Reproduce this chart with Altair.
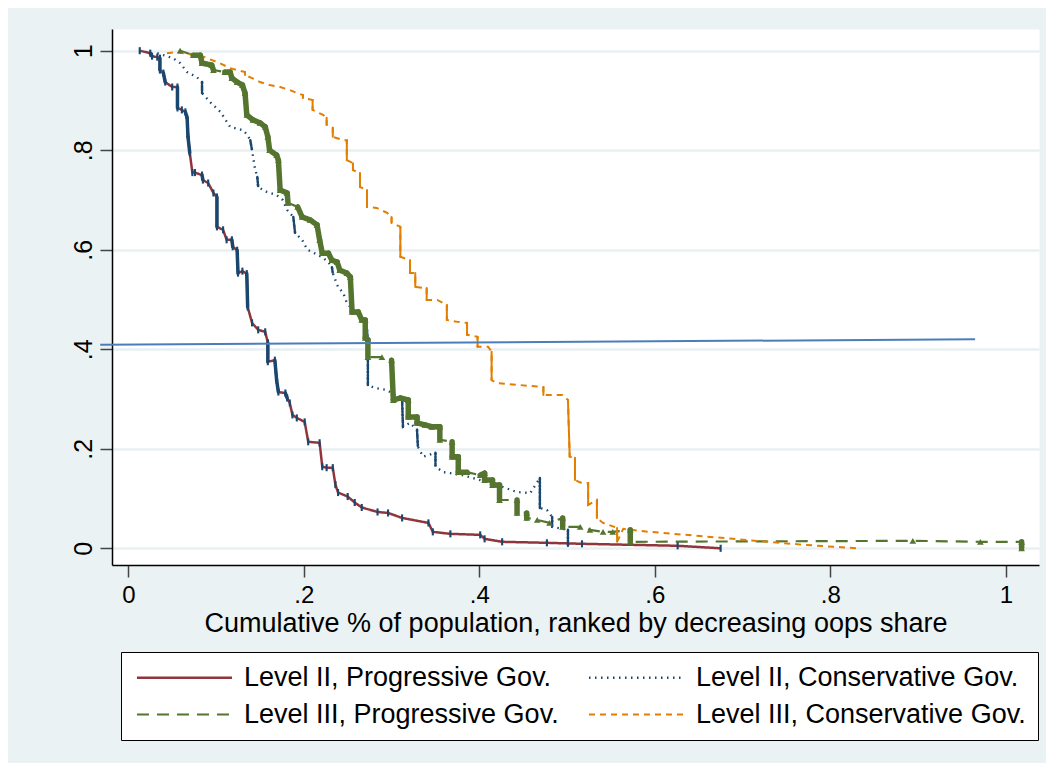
import altair as alt
import pandas as pd

# ---------------- data ----------------
series_names = [
    "Level II, Progressive Gov.",
    "Level II, Conservative Gov.",
    "Level III, Progressive Gov.",
    "Level III, Conservative Gov.",
]

l2p_x = [0.013, 0.025, 0.027, 0.033, 0.036, 0.036, 0.040, 0.042, 0.050, 0.056, 0.056,
         0.061, 0.065, 0.067, 0.068, 0.070, 0.073, 0.076, 0.084, 0.085, 0.091, 0.097,
         0.101, 0.101, 0.108, 0.112, 0.118, 0.119, 0.124, 0.125, 0.130, 0.135, 0.136,
         0.141, 0.148, 0.156, 0.159, 0.159, 0.167, 0.169, 0.171, 0.179, 0.181, 0.184,
         0.187, 0.192, 0.201, 0.205, 0.218, 0.221, 0.226, 0.233, 0.236, 0.239, 0.250,
         0.258, 0.266, 0.284, 0.296, 0.312, 0.342, 0.347, 0.367, 0.401, 0.406, 0.426,
         0.477, 0.517, 0.626, 0.675]
l2p_y = [1.000, 0.995, 0.989, 0.987, 0.985, 0.961, 0.955, 0.937, 0.927, 0.927, 0.885,
         0.881, 0.877, 0.865, 0.827, 0.795, 0.755, 0.755, 0.750, 0.740, 0.734, 0.714,
         0.706, 0.646, 0.640, 0.620, 0.620, 0.606, 0.599, 0.553, 0.557, 0.552, 0.485,
         0.453, 0.439, 0.435, 0.413, 0.375, 0.378, 0.338, 0.314, 0.312, 0.302, 0.292,
         0.268, 0.262, 0.254, 0.214, 0.212, 0.164, 0.162, 0.162, 0.128, 0.112, 0.104,
         0.092, 0.082, 0.073, 0.071, 0.061, 0.051, 0.033, 0.029, 0.027, 0.019, 0.013,
         0.011, 0.009, 0.005, 0.000]

l2c_x = [0.033, 0.040, 0.051, 0.059, 0.067, 0.078, 0.084, 0.084, 0.093, 0.105, 0.116,
         0.131, 0.136, 0.139, 0.141, 0.144, 0.147, 0.148, 0.158, 0.169, 0.176, 0.181,
         0.188, 0.190, 0.198, 0.204, 0.210, 0.221, 0.228, 0.232, 0.233, 0.239, 0.245,
         0.249, 0.256, 0.264, 0.272, 0.273, 0.273, 0.281, 0.295, 0.312, 0.313, 0.321,
         0.329, 0.330, 0.336, 0.350, 0.350, 0.359, 0.367, 0.381, 0.401, 0.427, 0.443,
         0.458, 0.469, 0.469, 0.477, 0.483, 0.483, 0.501, 0.501]
l2c_y = [0.995, 0.991, 0.985, 0.975, 0.957, 0.947, 0.937, 0.915, 0.897, 0.877, 0.847,
         0.840, 0.830, 0.820, 0.800, 0.766, 0.746, 0.726, 0.716, 0.710, 0.700, 0.680,
         0.666, 0.634, 0.620, 0.600, 0.595, 0.585, 0.575, 0.565, 0.553, 0.525, 0.513,
         0.493, 0.479, 0.465, 0.439, 0.413, 0.328, 0.322, 0.318, 0.298, 0.244, 0.252,
         0.238, 0.204, 0.184, 0.192, 0.164, 0.153, 0.151, 0.147, 0.137, 0.123, 0.113,
         0.111, 0.141, 0.081, 0.077, 0.063, 0.043, 0.037, 0.003]

l3p_x = [0.059, 0.074, 0.082, 0.084, 0.095, 0.097, 0.110, 0.116, 0.118, 0.124, 0.130,
         0.133, 0.135, 0.142, 0.150, 0.156, 0.159, 0.161, 0.169, 0.171, 0.173, 0.181,
         0.182, 0.193, 0.198, 0.207, 0.215, 0.218, 0.221, 0.228, 0.232, 0.238, 0.241,
         0.249, 0.253, 0.255, 0.262, 0.266, 0.270, 0.270, 0.273, 0.273, 0.289, 0.300,
         0.302, 0.310, 0.319, 0.319, 0.329, 0.329, 0.338, 0.346, 0.355, 0.355, 0.369,
         0.369, 0.376, 0.376, 0.386, 0.401, 0.406, 0.406, 0.415, 0.415, 0.423, 0.423,
         0.443, 0.443, 0.454, 0.454, 0.466, 0.480, 0.495, 0.495, 0.515, 0.526, 0.541,
         0.552, 0.572, 0.572, 0.894, 0.971, 1.018, 1.018]
l3p_y = [1.000, 0.991, 0.991, 0.975, 0.971, 0.961, 0.957, 0.957, 0.945, 0.937, 0.931,
         0.915, 0.871, 0.861, 0.855, 0.847, 0.827, 0.800, 0.790, 0.780, 0.720, 0.714,
         0.694, 0.686, 0.666, 0.660, 0.650, 0.620, 0.593, 0.593, 0.579, 0.575, 0.559,
         0.553, 0.545, 0.475, 0.475, 0.459, 0.459, 0.423, 0.419, 0.384, 0.384, 0.378,
         0.298, 0.302, 0.298, 0.264, 0.264, 0.252, 0.248, 0.244, 0.244, 0.218, 0.214,
         0.184, 0.184, 0.153, 0.153, 0.147, 0.151, 0.137, 0.137, 0.127, 0.127, 0.097,
         0.097, 0.071, 0.071, 0.061, 0.057, 0.051, 0.061, 0.043, 0.043, 0.037, 0.033,
         0.033, 0.037, 0.013, 0.015, 0.013, 0.013, 0.000]

l3c_x = [0.044, 0.055, 0.084, 0.104, 0.116, 0.124, 0.133, 0.133, 0.141, 0.150, 0.161,
         0.173, 0.184, 0.192, 0.199, 0.199, 0.210, 0.210, 0.222, 0.226, 0.226, 0.233,
         0.233, 0.245, 0.249, 0.249, 0.256, 0.256, 0.264, 0.264, 0.272, 0.272, 0.283,
         0.295, 0.300, 0.300, 0.310, 0.310, 0.321, 0.321, 0.327, 0.327, 0.340, 0.340,
         0.352, 0.363, 0.363, 0.375, 0.386, 0.386, 0.398, 0.398, 0.410, 0.414, 0.414,
         0.420, 0.473, 0.473, 0.495, 0.501, 0.503, 0.509, 0.509, 0.517, 0.524, 0.524,
         0.534, 0.534, 0.541, 0.557, 0.557, 0.564, 0.594, 0.689, 0.769, 0.831]
l3c_y = [0.995, 0.997, 0.989, 0.975, 0.965, 0.961, 0.957, 0.951, 0.945, 0.937, 0.931,
         0.927, 0.921, 0.915, 0.911, 0.905, 0.901, 0.881, 0.871, 0.865, 0.851, 0.845,
         0.827, 0.820, 0.820, 0.780, 0.774, 0.760, 0.754, 0.726, 0.720, 0.686, 0.684,
         0.674, 0.666, 0.654, 0.646, 0.586, 0.579, 0.553, 0.553, 0.525, 0.523, 0.499,
         0.499, 0.489, 0.459, 0.455, 0.453, 0.429, 0.425, 0.405, 0.405, 0.395, 0.338,
         0.332, 0.324, 0.308, 0.308, 0.298, 0.184, 0.182, 0.137, 0.131, 0.131, 0.087,
         0.097, 0.061, 0.051, 0.041, 0.013, 0.039, 0.033, 0.019, 0.007, 0.000]

ref_x = [-0.032, 0.965]
ref_y = [0.409, 0.420]

x_ticks = [0, 0.2, 0.4, 0.6, 0.8, 1]
y_ticks = [0, 0.2, 0.4, 0.6, 0.8, 1]
x_title = "Cumulative % of population, ranked by decreasing oops share"

# ---------------- styles ----------------
FONT = "Liberation Sans"
MAROON, NAVY, GREEN, ORANGE = "#90353b", "#1a476f", "#55752f", "#e37e00"
REF_BLUE = "#4a7ebb"
line_colors = [MAROON, NAVY, GREEN, ORANGE]
line_dashes = [[1, 0], [1.5, 4.5], [12, 8], [6, 5]]
line_widths = [2.5, 2, 3, 1.6]
# (colour, width, dash, max |dx| counted as a dense "marker" run)
step_styles = [
    (NAVY, 3.5, [1, 0], 0.0025),
    (NAVY, 2.5, [2, 1.5], 0.0025),
    (GREEN, 5.5, [1, 0], 0.011),
    (ORANGE, 2, [1, 0], 0.0025),
]

# ---------------- tables ----------------
all_x = [l2p_x, l2c_x, l3p_x, l3c_x]
all_y = [l2p_y, l2c_y, l3p_y, l3c_y]
rows, steps = [], []
for name, xs, ys, st in zip(series_names, all_x, all_y, step_styles):
    for i, (a, b) in enumerate(zip(xs, ys)):
        rows.append({"series": name, "x": a, "y": b, "idx": i})
    for i in range(len(xs) - 1):
        if abs(xs[i + 1] - xs[i]) <= st[3] and (ys[i + 1] != ys[i] or xs[i + 1] != xs[i]):
            steps.append({"series": name, "x": xs[i], "x2": xs[i + 1],
                          "y": ys[i], "y2": ys[i + 1]})
df = pd.DataFrame(rows)
steps_df = pd.DataFrame(steps)
ref_df = pd.DataFrame({"x": ref_x, "y": ref_y})

x_scale = alt.Scale(domain=[-0.0186, 1.0378], nice=False, zero=False)
y_scale = alt.Scale(domain=[-0.0336, 1.0436], nice=False, zero=False)

label_expr = ("datum.value == 0 ? '0' : datum.value == 1 ? '1' : "
              "replace(format(datum.value, '.1f'), '0.', '.')")

x_axis = alt.Axis(values=x_ticks, labelExpr=label_expr, title=x_title, grid=False,
                  tickSize=12, tickColor="#444", tickWidth=1.5,
                  domainColor="black", domainWidth=1.5,
                  labelFont=FONT, labelFontSize=24, labelColor="black", labelPadding=6,
                  titleFont=FONT, titleFontSize=27, titleFontWeight="normal",
                  titleColor="black", titlePadding=3)
y_axis = alt.Axis(values=y_ticks, labelExpr=label_expr, title=None, grid=True,
                  gridColor="#E8F0F2", gridWidth=2.5,
                  tickSize=12, tickColor="#444", tickWidth=1.5,
                  domainColor="black", domainWidth=1.5,
                  labelFont=FONT, labelFontSize=25, labelColor="black",
                  labelAngle=270, labelAlign="center", labelBaseline="bottom",
                  labelPadding=4)

legend = alt.Legend(orient="none", legendX=9, legendY=623, columns=2,
                    direction="horizontal", title=None,
                    symbolType="M-1,0L9,0", symbolSize=361, symbolStrokeWidth=2.5,
                    labelFont=FONT, labelFontSize=27, labelColor="black",
                    labelLimit=600, labelOffset=84, columnPadding=25,
                    rowPadding=9, padding=12,
                    strokeColor="black", fillColor="white")

base = alt.Chart(df)

lines = base.mark_line().encode(
    x=alt.X("x:Q", scale=x_scale, axis=x_axis),
    y=alt.Y("y:Q", scale=y_scale, axis=y_axis),
    order=alt.Order("idx:Q"),
    color=alt.Color("series:N",
                    scale=alt.Scale(domain=series_names, range=line_colors),
                    legend=legend),
    strokeDash=alt.StrokeDash("series:N",
                              scale=alt.Scale(domain=series_names, range=line_dashes),
                              legend=legend),
    strokeWidth=alt.StrokeWidth("series:N",
                                scale=alt.Scale(domain=series_names, range=line_widths),
                                legend=None),
)

layers = [lines]
for name, st in zip(series_names, step_styles):
    col, w, dash, _ = st
    layers.append(
        alt.Chart(steps_df).transform_filter(alt.datum.series == name)
        .mark_rule(color=col, strokeWidth=w, strokeCap="round", strokeDash=dash)
        .encode(x=alt.X("x:Q", scale=x_scale), x2="x2:Q",
                y=alt.Y("y:Q", scale=y_scale), y2="y2:Q")
    )

red_marks = base.transform_filter(alt.datum.series == series_names[0]).mark_point(
    shape="M-0.3,-1L0.3,-1L0.3,1L-0.3,1Z", filled=True, color=NAVY, size=50, opacity=1
).encode(x=alt.X("x:Q", scale=x_scale), y=alt.Y("y:Q", scale=y_scale))

green_marks = base.transform_filter(alt.datum.series == series_names[2]).mark_point(
    shape="triangle-up", filled=True, color=GREEN, size=45, opacity=1
).encode(x=alt.X("x:Q", scale=x_scale), y=alt.Y("y:Q", scale=y_scale))

ref_line = alt.Chart(ref_df).mark_line(color=REF_BLUE, strokeWidth=2, clip=False).encode(
    x=alt.X("x:Q", scale=x_scale), y=alt.Y("y:Q", scale=y_scale))

chart = alt.layer(*layers, red_marks, green_marks, ref_line).properties(
    width=927, height=536,
    autosize=alt.AutoSizeParams(type="none"),
    padding={"left": 104, "top": 21, "right": 7, "bottom": 198},
    background="#EAF2F3",
).configure_view(stroke="transparent", fill="white")

chart.save("out.html", embed_options={"renderer": "svg", "actions": False})
